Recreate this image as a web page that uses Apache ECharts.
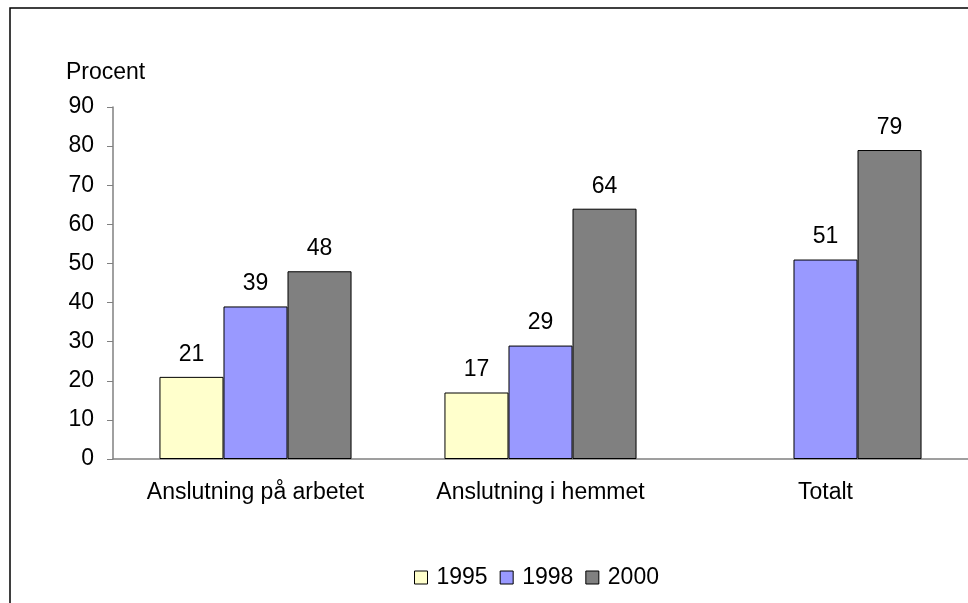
<!DOCTYPE html>
<html>
<head>
<meta charset="utf-8">
<script src="https://cdn.jsdelivr.net/npm/echarts@6/dist/echarts.min.js"></script>
<style>
	html, body { margin: 0; padding: 0; background: #fff; }
	#chart { width: 968px; height: 603px; }
</style>
</head>
<body>
<div id="chart"></div>
<script>
	// kategorier och värden (procent)
	var categories = ['Anslutning på arbetet', 'Anslutning i hemmet', 'Totalt'];
	var years = ['1995', '1998', '2000'];
	var values1995 = [21, 17, null];
	var values1998 = [39, 29, 51];
	var values2000 = [48, 64, 79];
	var yTicks = [0, 10, 20, 30, 40, 50, 60, 70, 80, 90];

	var colors = ['#FFFFCC', '#9999FF', '#808080'];
	var font = 'Arial, "Liberation Sans", sans-serif';
	var fs = 23;

	var chart = echarts.init(document.getElementById('chart'));

	function makeSeries(name, data, color) {
		return {
			name: name,
			type: 'bar',
			data: data,
			barGap: '0%',
			barCategoryGap: '32.6%',
			itemStyle: {
				color: color,
				borderColor: '#000',
				borderWidth: 1
			},
			label: {
				show: true,
				position: 'top',
				distance: 11,
				color: '#000',
				fontSize: fs,
				fontFamily: font
			}
		};
	}

	var option = {
		animation: false,
		backgroundColor: '#fff',
		textStyle: { fontFamily: font },
		graphic: [{
			type: 'rect',
			shape: { x: 10, y: 8, width: 1000, height: 700 },
			style: { fill: 'none', stroke: '#000', lineWidth: 1.5 }
		}, {
			type: 'text',
			left: 66,
			top: 61,
			style: { text: 'Procent', fill: '#000', fontSize: fs, fontFamily: font }
		}],
		grid: {
			left: 113,
			right: 0,
			top: 107,
			bottom: 144,
			containLabel: false
		},
		legend: {
			data: years,
			bottom: 9,
			left: 409,
			itemWidth: 13,
			itemHeight: 13,
			itemGap: 12,
			icon: 'rect',
			textStyle: { color: '#000', fontSize: fs, fontFamily: font, padding: [0, 0, 0, 4] },
			itemStyle: { borderColor: '#000', borderWidth: 1 }
		},
		xAxis: {
			type: 'category',
			data: categories,
			axisLine: { lineStyle: { color: '#808080', width: 1.5 } },
			axisTick: { show: false },
			axisLabel: { color: '#000', fontSize: fs, fontFamily: font, margin: 22 }
		},
		yAxis: {
			type: 'value',
			min: yTicks[0],
			max: yTicks[yTicks.length - 1],
			interval: 10,
			axisLine: { show: true, lineStyle: { color: '#808080', width: 1.5 } },
			axisTick: { show: true, length: 6, lineStyle: { color: '#808080' } },
			axisLabel: { color: '#000', fontSize: fs, fontFamily: font, margin: 19 },
			splitLine: { show: false }
		},
		series: [
			makeSeries(years[0], values1995, colors[0]),
			makeSeries(years[1], values1998, colors[1]),
			makeSeries(years[2], values2000, colors[2])
		]
	};
	chart.setOption(option);
</script>
</body>
</html>
